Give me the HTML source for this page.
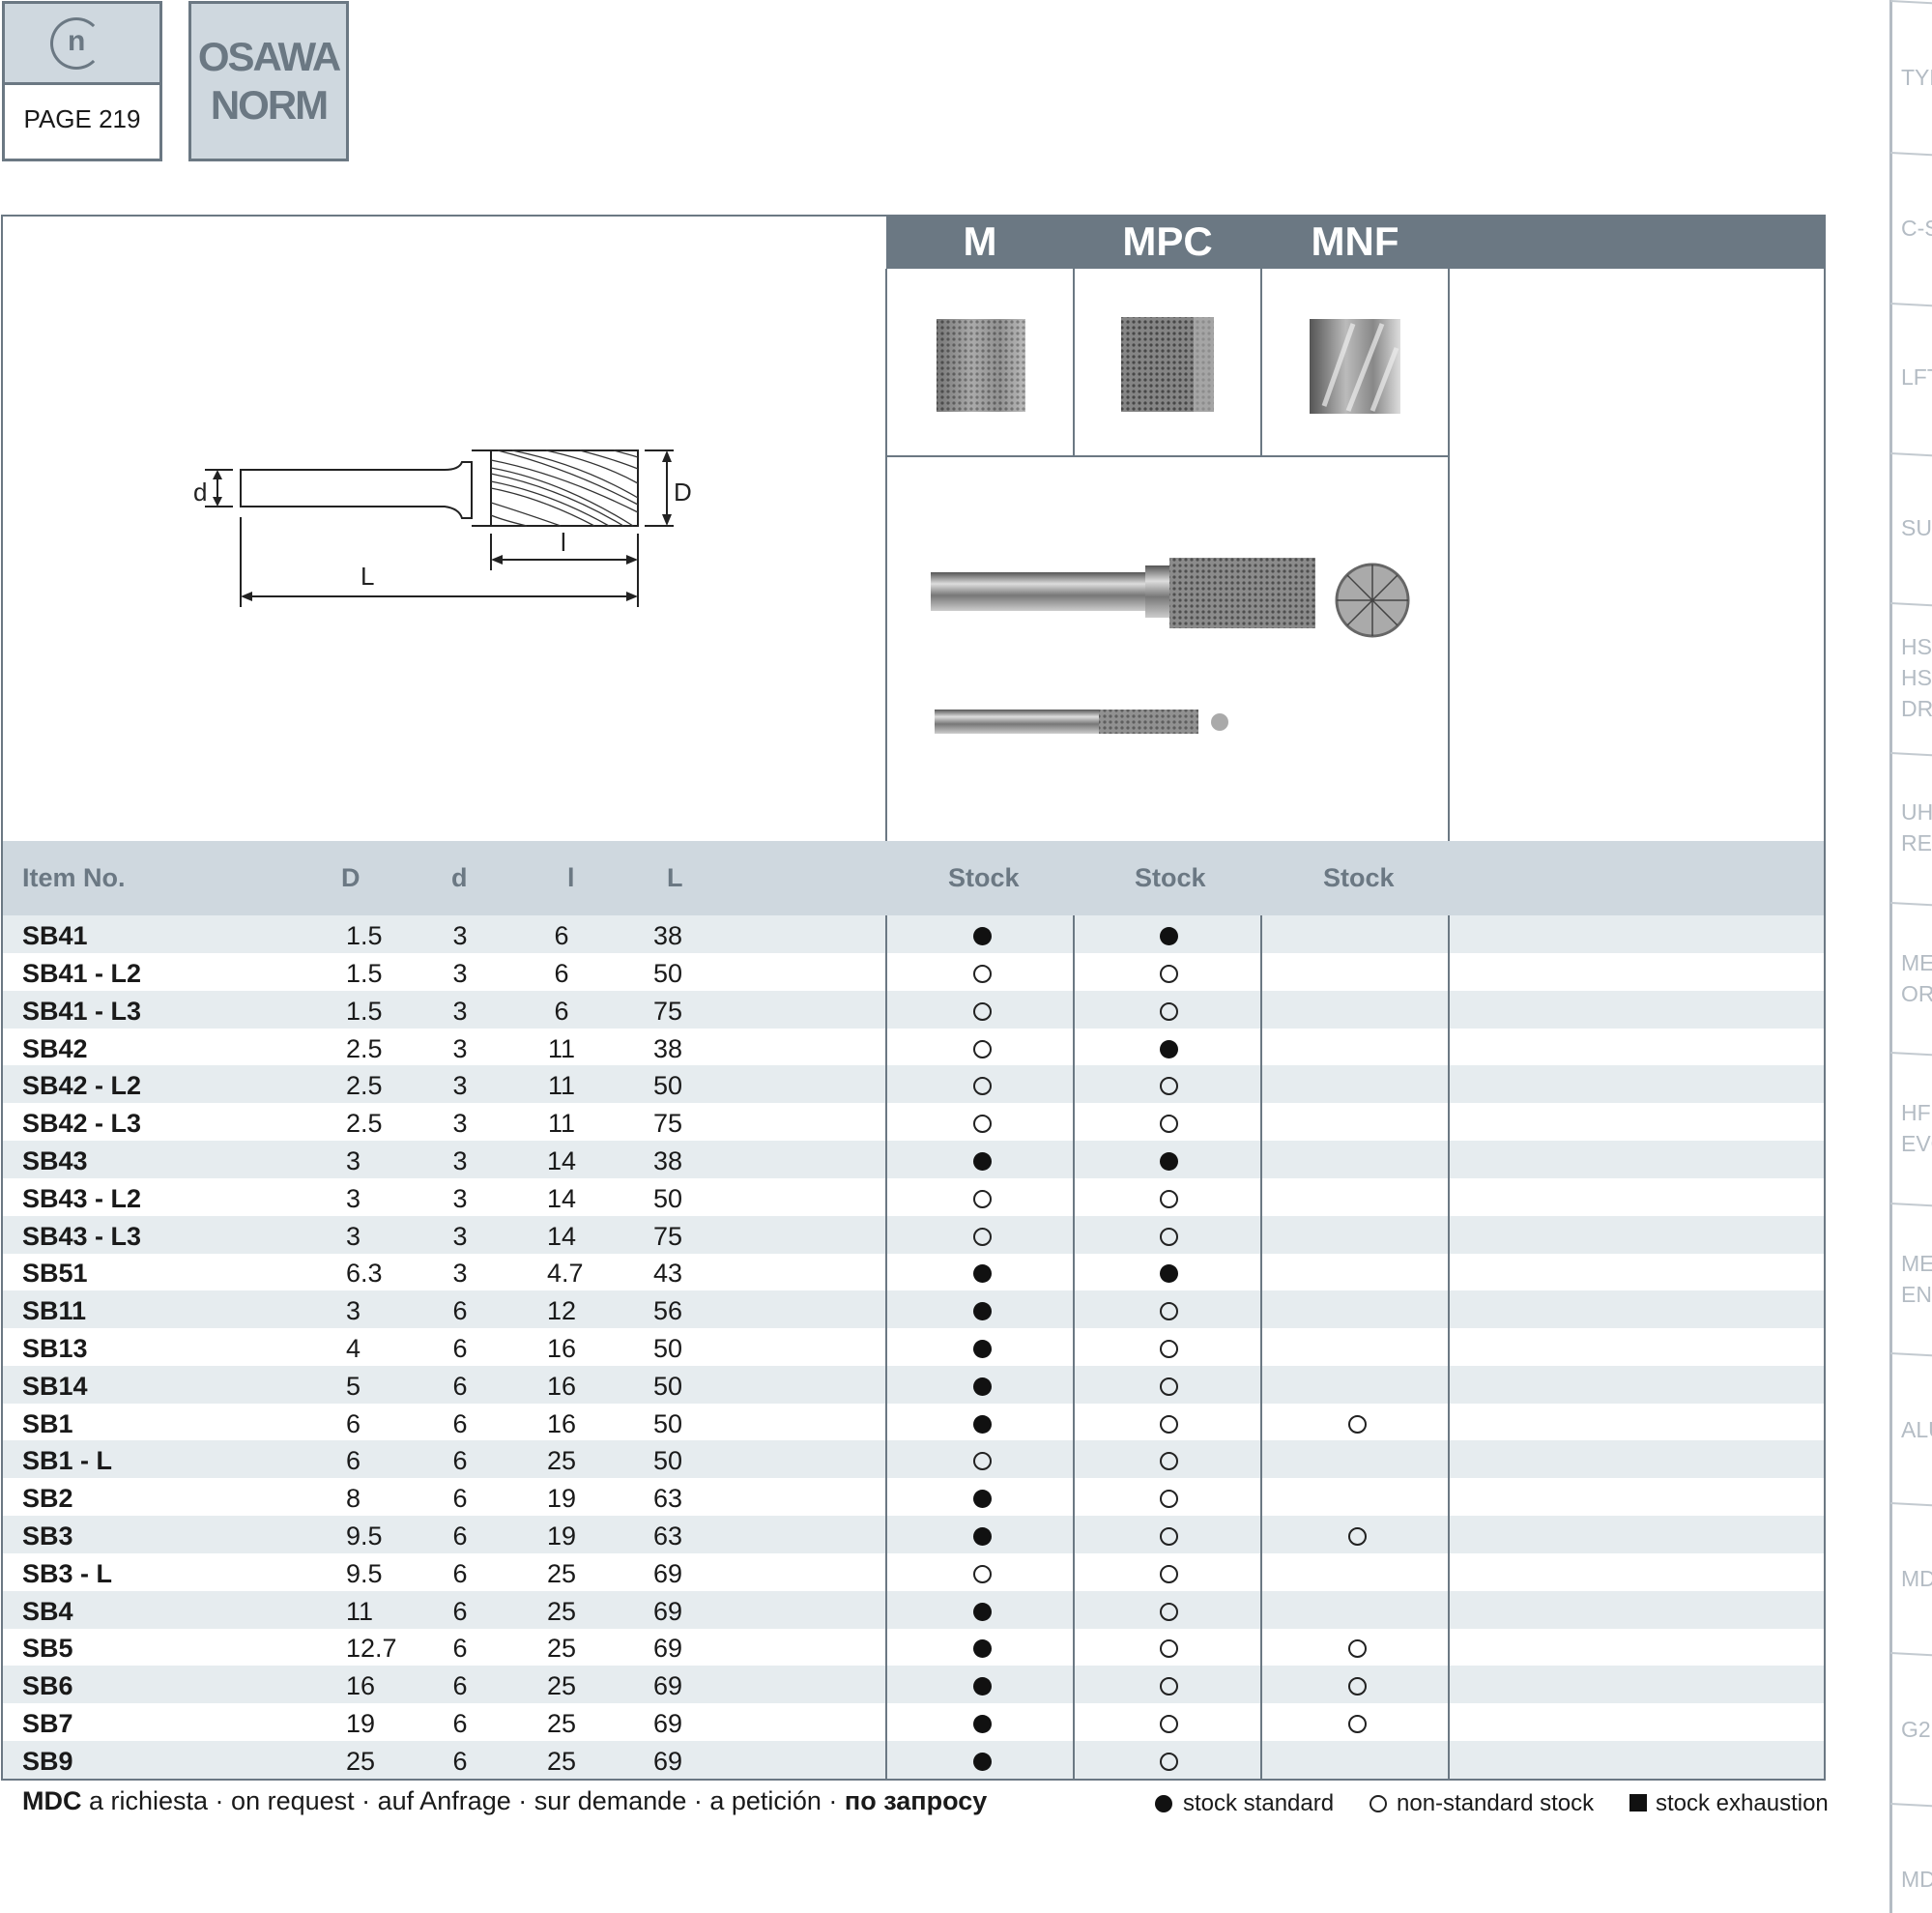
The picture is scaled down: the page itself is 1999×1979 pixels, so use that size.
<!DOCTYPE html>
<html><head><meta charset="utf-8">
<style>
*{margin:0;padding:0;box-sizing:border-box}
body{width:1999px;height:1979px;background:#fff;position:relative;overflow:hidden;font-family:"Liberation Sans",sans-serif;color:#1a1a1a}
.a{position:absolute}
.row{position:absolute;left:3px;width:1884px;height:39px;font-size:27px;line-height:43px}
.row.s{background:#e6ecef}
.row span{position:absolute;top:0}
.i{left:20px;font-weight:bold}
.D{left:355px}
.d{left:448px;width:50px;text-align:center}
.l{left:548px;width:60px;text-align:center}
.L{left:673px}
.f,.o{position:absolute;width:19px;height:19px;border-radius:50%;top:12px}
.f{background:#111}
.o{border:2px solid #222;background:transparent}
.c1{left:1004px}.c2{left:1197px}.c3{left:1392px}
.sb{position:absolute;left:1967px;color:#b4bcc4;font-size:23px;line-height:32px;white-space:nowrap}
.sep{position:absolute;left:1956px;width:50px;height:2px;background:#c3cad0;transform:rotate(3deg);transform-origin:left}
.hd{position:absolute;top:870px;font-size:27px;font-weight:bold;color:#6b7883;line-height:77px}
</style></head><body>

<div class="a" style="left:2px;top:1px;width:166px;height:166px;border:3px solid #6b7883;background:#fff"></div>
<div class="a" style="left:5px;top:4px;width:160px;height:84px;background:#cfd8df;border-bottom:3px solid #6b7883"></div>
<div class="a" style="left:52px;top:18px;width:54px;height:54px;border:3px solid #6b7883;border-radius:50%;border-right-color:transparent"></div>
<div class="a" style="left:70px;top:26px;font-size:30px;font-weight:bold;color:#6b7883">n</div>
<div class="a" style="left:5px;top:108px;width:160px;text-align:center;font-size:26px">PAGE 219</div>
<div class="a" style="left:195px;top:1px;width:166px;height:166px;border:3px solid #6b7883;background:#cfd8df"></div>
<div class="a" style="left:198px;top:34px;width:160px;text-align:center;font-size:42px;font-weight:bold;color:#6b7883;line-height:50px;letter-spacing:-2px">OSAWA<br>NORM</div>

<div class="a" style="left:1px;top:222px;width:1888px;height:1620px;border:2px solid #6b7883"></div>
<div class="a" style="left:917px;top:222px;width:972px;height:56px;background:#6b7883"></div>
<div class="a" style="left:917px;top:226px;width:194px;text-align:center;color:#fff;font-size:42px;font-weight:bold">M</div>
<div class="a" style="left:1111px;top:226px;width:194px;text-align:center;color:#fff;font-size:42px;font-weight:bold">MPC</div>
<div class="a" style="left:1305px;top:226px;width:194px;text-align:center;color:#fff;font-size:42px;font-weight:bold">MNF</div>
<div class="a" style="left:916px;top:278px;width:2px;height:592px;background:#6b7883"></div>
<div class="a" style="left:1110px;top:278px;width:2px;height:194px;background:#6b7883"></div>
<div class="a" style="left:1304px;top:278px;width:2px;height:194px;background:#6b7883"></div>
<div class="a" style="left:1498px;top:278px;width:2px;height:592px;background:#6b7883"></div>
<div class="a" style="left:917px;top:471px;width:582px;height:2px;background:#6b7883"></div>

<svg class="a" style="left:0;top:0" width="1999" height="1000">
<defs>
<linearGradient id="g1" x1="0" x2="1"><stop offset="0" stop-color="#555"/><stop offset=".4" stop-color="#bbb"/><stop offset=".7" stop-color="#888"/><stop offset="1" stop-color="#ddd"/></linearGradient>
<linearGradient id="g2" x1="0" y1="0" x2="0" y2="1"><stop offset="0" stop-color="#555"/><stop offset=".3" stop-color="#ddd"/><stop offset=".6" stop-color="#777"/><stop offset="1" stop-color="#ccc"/></linearGradient>
<pattern id="kn" width="6" height="6" patternUnits="userSpaceOnUse"><rect width="6" height="6" fill="#999"/><circle cx="3" cy="3" r="1.6" fill="#333"/></pattern>
</defs>
<rect x="969" y="330" width="92" height="96" fill="url(#g1)"/><rect x="969" y="330" width="92" height="96" fill="url(#kn)" opacity=".5"/>
<rect x="1160" y="328" width="96" height="98" fill="#666"/><rect x="1160" y="328" width="96" height="98" fill="url(#kn)" opacity=".6"/><rect x="1235" y="328" width="21" height="98" fill="#bbb" opacity=".6"/>
<rect x="1355" y="330" width="94" height="98" fill="url(#g1)"/>
<g stroke="#eee" stroke-width="5" opacity=".7"><line x1="1370" y1="420" x2="1400" y2="335"/><line x1="1395" y1="425" x2="1430" y2="335"/><line x1="1420" y1="425" x2="1445" y2="360"/></g>
<rect x="963" y="592" width="222" height="40" fill="url(#g2)"/>
<rect x="1185" y="585" width="25" height="54" fill="url(#g2)"/>
<rect x="1210" y="577" width="151" height="73" fill="#777"/><rect x="1210" y="577" width="151" height="73" fill="url(#kn)" opacity=".6"/>
<circle cx="1420" cy="621" r="37" fill="#aaa" stroke="#666" stroke-width="3"/>
<g stroke="#444" stroke-width="1.5"><line x1="1383" y1="621" x2="1457" y2="621"/><line x1="1420" y1="584" x2="1420" y2="658"/><line x1="1394" y1="595" x2="1446" y2="647"/><line x1="1446" y1="595" x2="1394" y2="647"/></g>
<rect x="967" y="734" width="170" height="25" fill="url(#g2)"/>
<rect x="1137" y="734" width="103" height="25" fill="#888"/><rect x="1137" y="734" width="103" height="25" fill="url(#kn)" opacity=".5"/>
<circle cx="1262" cy="747" r="9" fill="#aaa"/>

<g stroke="#222" stroke-width="2" fill="none">
<path d="M249 486 H460 Q475 486 478 478 L488 478 L488 536 L478 536 Q475 526 460 524 H249 Z"/>
<rect x="508" y="466" width="152" height="78"/>
<line x1="488" y1="466" x2="508" y2="466"/><line x1="488" y1="544" x2="508" y2="544"/>
<line x1="212" y1="486" x2="241" y2="486"/><line x1="212" y1="524" x2="241" y2="524"/>
<line x1="225" y1="490" x2="225" y2="520"/>
<line x1="667" y1="466" x2="697" y2="466"/><line x1="667" y1="544" x2="697" y2="544"/>
<line x1="690" y1="470" x2="690" y2="540"/>
<line x1="249" y1="535" x2="249" y2="628"/><line x1="508" y1="552" x2="508" y2="590"/><line x1="660" y1="552" x2="660" y2="628"/>
<line x1="512" y1="579" x2="656" y2="579"/><line x1="253" y1="617" x2="656" y2="617"/>
</g>
<g fill="#222">
<polygon points="225,486 220,496 230,496"/><polygon points="225,524 220,514 230,514"/>
<polygon points="690,466 685,478 695,478"/><polygon points="690,544 685,532 695,532"/>
<polygon points="508,579 520,574 520,584"/><polygon points="660,579 648,574 648,584"/>
<polygon points="249,617 261,612 261,622"/><polygon points="660,617 648,612 648,622"/>
</g>
<g stroke="#333" stroke-width="1.3" fill="none">
<path d="M508 476 Q580 490 660 530"/><path d="M508 490 Q580 505 645 544"/><path d="M508 505 Q560 515 615 544"/><path d="M508 520 Q540 530 580 544"/><path d="M508 533 Q520 538 545 544"/>
<path d="M530 466 Q600 480 660 515"/><path d="M565 466 Q620 478 660 500"/><path d="M600 466 Q635 475 660 485"/><path d="M635 466 Q650 470 660 473"/>
<path d="M508 484 Q580 497 655 544"/><path d="M508 498 Q570 510 630 544"/><path d="M515 466 Q590 485 660 522"/>
</g>
<text x="200" y="518" font-family="Liberation Sans" font-size="26" fill="#222">d</text>
<text x="697" y="518" font-family="Liberation Sans" font-size="26" fill="#222">D</text>
<text x="580" y="570" font-family="Liberation Sans" font-size="26" fill="#222">l</text>
<text x="373" y="605" font-family="Liberation Sans" font-size="26" fill="#222">L</text>
</svg>

<div class="a" style="left:3px;top:870px;width:1884px;height:77px;background:#cfd8df"></div>
<div class="hd" style="left:23px">Item No.</div>
<div class="hd" style="left:353px">D</div>
<div class="hd" style="left:467px">d</div>
<div class="hd" style="left:587px">l</div>
<div class="hd" style="left:690px">L</div>
<div class="hd" style="left:981px">Stock</div>
<div class="hd" style="left:1174px">Stock</div>
<div class="hd" style="left:1369px">Stock</div>

<div class="row s" style="top:947px"><span class="i">SB41</span><span class="D">1.5</span><span class="d">3</span><span class="l">6</span><span class="L">38</span><i class="f c1"></i><i class="f c2"></i></div>
<div class="row" style="top:986px"><span class="i">SB41 - L2</span><span class="D">1.5</span><span class="d">3</span><span class="l">6</span><span class="L">50</span><i class="o c1"></i><i class="o c2"></i></div>
<div class="row s" style="top:1025px"><span class="i">SB41 - L3</span><span class="D">1.5</span><span class="d">3</span><span class="l">6</span><span class="L">75</span><i class="o c1"></i><i class="o c2"></i></div>
<div class="row" style="top:1064px"><span class="i">SB42</span><span class="D">2.5</span><span class="d">3</span><span class="l">11</span><span class="L">38</span><i class="o c1"></i><i class="f c2"></i></div>
<div class="row s" style="top:1102px"><span class="i">SB42 - L2</span><span class="D">2.5</span><span class="d">3</span><span class="l">11</span><span class="L">50</span><i class="o c1"></i><i class="o c2"></i></div>
<div class="row" style="top:1141px"><span class="i">SB42 - L3</span><span class="D">2.5</span><span class="d">3</span><span class="l">11</span><span class="L">75</span><i class="o c1"></i><i class="o c2"></i></div>
<div class="row s" style="top:1180px"><span class="i">SB43</span><span class="D">3</span><span class="d">3</span><span class="l">14</span><span class="L">38</span><i class="f c1"></i><i class="f c2"></i></div>
<div class="row" style="top:1219px"><span class="i">SB43 - L2</span><span class="D">3</span><span class="d">3</span><span class="l">14</span><span class="L">50</span><i class="o c1"></i><i class="o c2"></i></div>
<div class="row s" style="top:1258px"><span class="i">SB43 - L3</span><span class="D">3</span><span class="d">3</span><span class="l">14</span><span class="L">75</span><i class="o c1"></i><i class="o c2"></i></div>
<div class="row" style="top:1296px"><span class="i">SB51</span><span class="D">6.3</span><span class="d">3</span><span class="l">&nbsp;4.7</span><span class="L">43</span><i class="f c1"></i><i class="f c2"></i></div>
<div class="row s" style="top:1335px"><span class="i">SB11</span><span class="D">3</span><span class="d">6</span><span class="l">12</span><span class="L">56</span><i class="f c1"></i><i class="o c2"></i></div>
<div class="row" style="top:1374px"><span class="i">SB13</span><span class="D">4</span><span class="d">6</span><span class="l">16</span><span class="L">50</span><i class="f c1"></i><i class="o c2"></i></div>
<div class="row s" style="top:1413px"><span class="i">SB14</span><span class="D">5</span><span class="d">6</span><span class="l">16</span><span class="L">50</span><i class="f c1"></i><i class="o c2"></i></div>
<div class="row" style="top:1452px"><span class="i">SB1</span><span class="D">6</span><span class="d">6</span><span class="l">16</span><span class="L">50</span><i class="f c1"></i><i class="o c2"></i><i class="o c3"></i></div>
<div class="row s" style="top:1490px"><span class="i">SB1 - L</span><span class="D">6</span><span class="d">6</span><span class="l">25</span><span class="L">50</span><i class="o c1"></i><i class="o c2"></i></div>
<div class="row" style="top:1529px"><span class="i">SB2</span><span class="D">8</span><span class="d">6</span><span class="l">19</span><span class="L">63</span><i class="f c1"></i><i class="o c2"></i></div>
<div class="row s" style="top:1568px"><span class="i">SB3</span><span class="D">9.5</span><span class="d">6</span><span class="l">19</span><span class="L">63</span><i class="f c1"></i><i class="o c2"></i><i class="o c3"></i></div>
<div class="row" style="top:1607px"><span class="i">SB3 - L</span><span class="D">9.5</span><span class="d">6</span><span class="l">25</span><span class="L">69</span><i class="o c1"></i><i class="o c2"></i></div>
<div class="row s" style="top:1646px"><span class="i">SB4</span><span class="D">11</span><span class="d">6</span><span class="l">25</span><span class="L">69</span><i class="f c1"></i><i class="o c2"></i></div>
<div class="row" style="top:1684px"><span class="i">SB5</span><span class="D">12.7</span><span class="d">6</span><span class="l">25</span><span class="L">69</span><i class="f c1"></i><i class="o c2"></i><i class="o c3"></i></div>
<div class="row s" style="top:1723px"><span class="i">SB6</span><span class="D">16</span><span class="d">6</span><span class="l">25</span><span class="L">69</span><i class="f c1"></i><i class="o c2"></i><i class="o c3"></i></div>
<div class="row" style="top:1762px"><span class="i">SB7</span><span class="D">19</span><span class="d">6</span><span class="l">25</span><span class="L">69</span><i class="f c1"></i><i class="o c2"></i><i class="o c3"></i></div>
<div class="row s" style="top:1801px"><span class="i">SB9</span><span class="D">25</span><span class="d">6</span><span class="l">25</span><span class="L">69</span><i class="f c1"></i><i class="o c2"></i></div>

<div class="a" style="left:916px;top:947px;width:2px;height:893px;background:#6b7883"></div>
<div class="a" style="left:1110px;top:947px;width:2px;height:893px;background:#6b7883"></div>
<div class="a" style="left:1304px;top:947px;width:2px;height:893px;background:#6b7883"></div>
<div class="a" style="left:1498px;top:947px;width:2px;height:893px;background:#6b7883"></div>

<div class="a" style="left:23px;top:1846px;font-size:27px;line-height:34px;white-space:nowrap"><b>MDC</b> a richiesta · on request · auf Anfrage · sur demande · a petición · <b>по запросу</b></div>
<div class="a" style="left:1195px;top:1857px;width:18px;height:18px;border-radius:50%;background:#111"></div>
<div class="a" style="left:1224px;top:1849px;font-size:24px;line-height:34px;white-space:nowrap">stock standard</div>
<div class="a" style="left:1417px;top:1857px;width:18px;height:18px;border-radius:50%;border:2px solid #222"></div>
<div class="a" style="left:1445px;top:1849px;font-size:24px;line-height:34px;white-space:nowrap">non-standard stock</div>
<div class="a" style="left:1686px;top:1856px;width:18px;height:18px;background:#111"></div>
<div class="a" style="left:1713px;top:1849px;font-size:24px;line-height:34px;white-space:nowrap">stock exhaustion</div>

<div class="a" style="left:1955px;top:0;width:3px;height:1979px;background:#b4bcc4"></div>
<div class="sep" style="top:0"></div><div class="sep" style="top:157px"></div><div class="sep" style="top:313px"></div><div class="sep" style="top:468px"></div><div class="sep" style="top:623px"></div><div class="sep" style="top:778px"></div><div class="sep" style="top:933px"></div><div class="sep" style="top:1088px"></div><div class="sep" style="top:1244px"></div><div class="sep" style="top:1399px"></div><div class="sep" style="top:1554px"></div><div class="sep" style="top:1709px"></div><div class="sep" style="top:1865px"></div>
<div class="sb" style="top:64px">TYP</div>
<div class="sb" style="top:220px">C-S</div>
<div class="sb" style="top:374px">LFT</div>
<div class="sb" style="top:530px">SUT</div>
<div class="sb" style="top:653px">HSS<br>HSS<br>DRI</div>
<div class="sb" style="top:824px">UH<br>RED</div>
<div class="sb" style="top:980px">ME<br>ORA</div>
<div class="sb" style="top:1135px">HF<br>EVO</div>
<div class="sb" style="top:1291px">ME<br>END</div>
<div class="sb" style="top:1463px">ALU</div>
<div class="sb" style="top:1617px">MD</div>
<div class="sb" style="top:1773px">G2</div>
<div class="sb" style="top:1928px">MD</div>
</body></html>
